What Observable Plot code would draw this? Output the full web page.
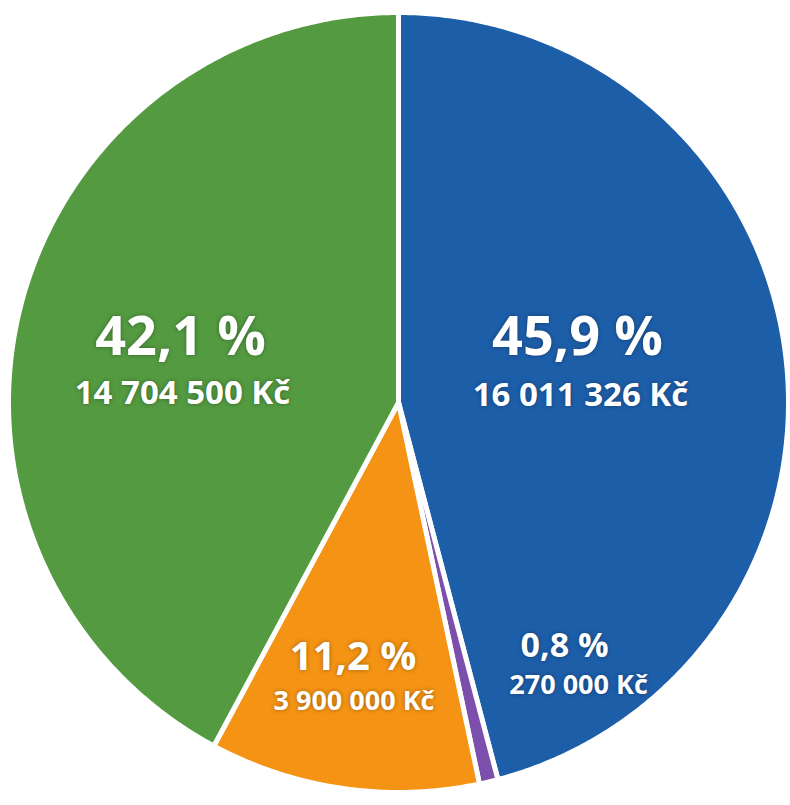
<!DOCTYPE html>
<html><head><meta charset="utf-8">
<script src="https://cdn.jsdelivr.net/npm/d3@7"></script>
<script src="https://cdn.jsdelivr.net/npm/@observablehq/plot@0.6"></script>
<style>
html,body{margin:0;padding:0;background:#fff;}
#chart svg text{ text-shadow: 0 0 4px rgba(0,0,0,0.35); }
</style></head><body><div id="chart"></div>
<script>
// Data (order: clockwise from 12 o'clock)
const categories = ["Položka A", "Položka B", "Položka C", "Položka D"];
const amounts = [16011326, 270000, 3900000, 14704500];
const percentLabels = ["45,9 %", "0,8 %", "11,2 %", "42,1 %"];
const colors = ["#1d5ea9", "#7b4fab", "#f49314", "#539a41"];

// Label layout (angle offset from slice centroid in degrees, radius fraction, font sizes, amount-line offset)
const labelLayout = [
  {da: -7.6, r: 0.475, size: 54, amtSize: 33, dx: 3, dy: 51},
  {da: -19.7, r: 0.78, size: 34, amtSize: 27, dx: 14, dy: 37},
  {da: 1.5, r: 0.697, size: 40, amtSize: 27, dx: 1, dy: 40},
  {da: -1.9, r: 0.572, size: 54, amtSize: 33, dx: 2, dy: 49}
];

const locale = d3.formatLocale({decimal: ",", thousands: " ", grouping: [3], currency: ["", " Kč"]});
const fmt = locale.format(",");

const arcs = d3.pie().sort(null).value(d => d)(amounts);
const pt = (a, r) => [Math.sin(a) * r, Math.cos(a) * r];

const slices = arcs.map((a, i) => {
  const span = a.endAngle - a.startAngle;
  const n = Math.max(2, Math.ceil(span / (2 * Math.PI) * 720));
  const ring = [[0, 0]];
  for (let k = 0; k <= n; ++k) ring.push(pt(a.startAngle + span * k / n, 1));
  ring.push([0, 0]);
  const L = labelLayout[i];
  const mid = (a.startAngle + a.endAngle) / 2 + L.da * Math.PI / 180;
  const [lx, ly] = pt(mid, L.r);
  return {
    type: "Feature",
    properties: {category: categories[i], pct: percentLabels[i], amt: fmt(amounts[i]) + " Kč", lx, ly, L},
    geometry: {type: "Polygon", coordinates: [ring]}
  };
});

const outlineRing = d3.range(0, 361).map(d => pt(d * Math.PI / 180, 1));
const outline = {type: "Polygon", coordinates: [outlineRing]};

const textMarks = slices.flatMap(s => {
  const p = s.properties, L = p.L;
  return [
    Plot.text([p], {x: "lx", y: "ly", text: "pct", fill: "white", fontSize: L.size, fontWeight: "bold", lineAnchor: "bottom"}),
    Plot.text([p], {x: "lx", y: "ly", text: "amt", fill: "white", fontSize: L.amtSize, fontWeight: "bold", lineAnchor: "bottom", dx: L.dx, dy: L.dy})
  ];
});

const chart = Plot.plot({
  width: 790,
  height: 805,
  marginLeft: 8,
  marginRight: 2,
  marginTop: 12,
  marginBottom: 13,
  projection: {type: "reflect-y", domain: outline},
  color: {domain: categories, range: colors},
  style: {fontFamily: "'Open Sans', sans-serif", background: "white"},
  marks: [
    Plot.geo(slices, {fill: d => d.properties.category, stroke: "white", strokeWidth: 5, strokeLinejoin: "round"}),
    ...textMarks
  ]
});
document.getElementById("chart").appendChild(chart);
</script></body></html>
